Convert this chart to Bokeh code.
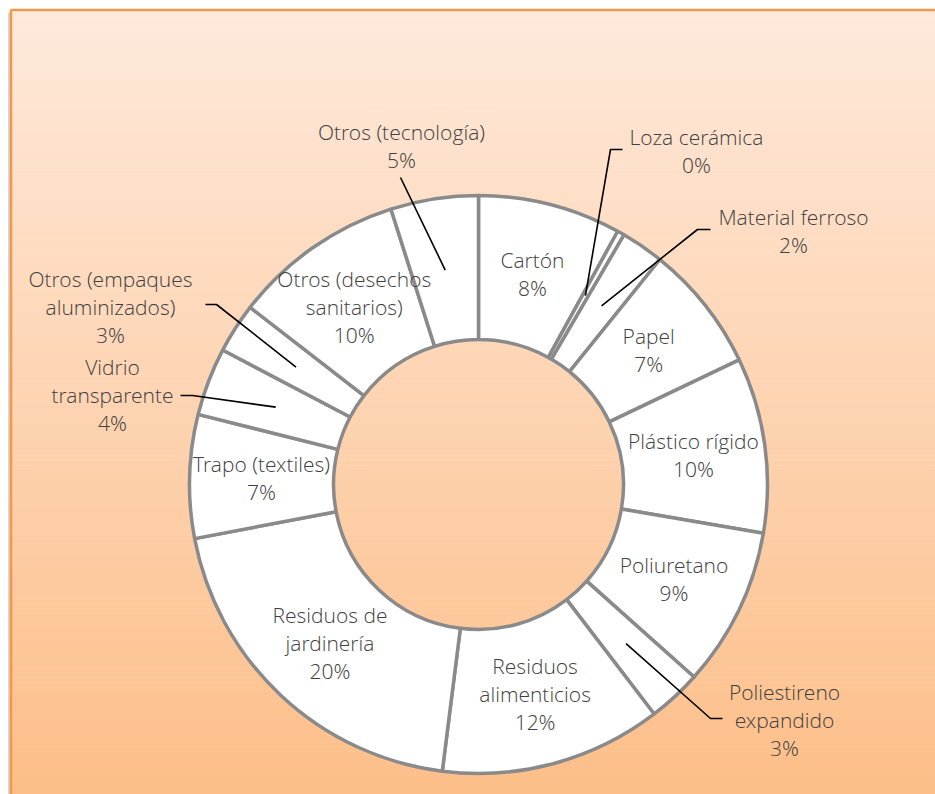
import math
from bokeh.plotting import figure
from bokeh.models import Range1d
from bokeh.core.properties import value
from bokeh.embed import file_html
from bokeh.resources import INLINE

# ---------------- data ----------------
categories = ["Cartón", "Loza cerámica", "Material ferroso", "Papel", "Plástico rígido",
              "Poliuretano", "Poliestireno expandido", "Residuos alimenticios",
              "Residuos de jardinería", "Trapo (textiles)", "Vidrio transparente",
              "Otros (empaques aluminizados)", "Otros (desechos sanitarios)", "Otros (tecnología)"]
shares = [8.0, 0.4, 2.4, 7.1, 9.8, 8.9, 3.0, 12.4, 20.0, 6.9, 3.8, 2.8, 9.6, 4.9]
label_lines = [["Cartón"], ["Loza cerámica"], ["Material ferroso"], ["Papel"], ["Plástico rígido"],
               ["Poliuretano"], ["Poliestireno", "expandido"], ["Residuos", "alimenticios"],
               ["Residuos de", "jardinería"], ["Trapo (textiles)"], ["Vidrio", "transparente"],
               ["Otros (empaques", "aluminizados)"], ["Otros (desechos", "sanitarios)"],
               ["Otros (tecnología)"]]

# ---------------- layout (page pixel coords) ----------------
W, H = 935, 794
def fx(X): return X
def fy(Y): return H - Y

CX, CY = 478, 484
R_OUT, R_IN = 289, 145
R_MID = (R_OUT + R_IN) / 2
LINE_GAP = 28

# outside labels: index -> (block centre x, first line y, leader elbow points)
outside = {
    1: (696, 136, [(622, 149), (610, 149)]),
    2: (793, 216, [(710, 229), (697, 229)]),
    6: (784, 691, [(722, 718), (710, 718)]),
    10: (112, 366, [(180, 395), (192, 395)]),
    11: (110, 278, [(205, 304), (216, 304)]),
    13: (401, 131, [(400, 177)]),
}

p = figure(width=W, height=H, output_backend="svg", toolbar_location=None,
           x_range=Range1d(0, W), y_range=Range1d(0, H),
           x_axis_location=None, y_axis_location=None, min_border=0)
p.outline_line_color = None
p.grid.visible = False
p.background_fill_color = "white"
p.border_fill_color = "white"

# background gradient box
top_c = (254, 233, 219)
bot_c = (253, 190, 136)
y0, y1 = 11, 800
n = 160
tops, bots, cols = [], [], []
for i in range(n):
    a = y0 + (y1 - y0) * i / n
    b = y0 + (y1 - y0) * (i + 1) / n
    t = (i + 0.5) / n
    c = tuple(int(round(top_c[k] + (bot_c[k] - top_c[k]) * t)) for k in range(3))
    tops.append(fy(a)); bots.append(fy(b) - 0.5)
    cols.append("#%02x%02x%02x" % c)
p.quad(left=fx(11), right=W + 5, top=tops, bottom=bots, fill_color=cols, line_color=None)
# shadow + border
p.line([fx(8.5), fx(8.5)], [fy(12), fy(810)], line_color="#d6d6d6", line_width=2)
p.line([fx(10.5), fx(10.5), W + 5], [fy(810), fy(9.5), fy(9.5)], line_color="#f79646", line_width=2.5)

# ---------------- donut ----------------
total = sum(shares)
starts, ends, mids = [], [], []
acc = 0.0
for s in shares:
    a0 = acc / total * 2 * math.pi
    acc += s
    a1 = acc / total * 2 * math.pi
    starts.append(math.pi / 2 - a1)
    ends.append(math.pi / 2 - a0)
    mids.append((a0 + a1) / 2)

p.annular_wedge(x=fx(CX), y=fy(CY), inner_radius=R_IN, outer_radius=R_OUT,
                start_angle=starts, end_angle=ends, direction="anticlock",
                fill_color="white", line_color="#8a8a8a", line_width=3.5)

# ---------------- labels ----------------
tx, ty, tt = [], [], []
for i, cat in enumerate(categories):
    lines = label_lines[i] + ["%d%%" % round(shares[i])]
    m = mids[i]
    px = CX + R_MID * math.sin(m)
    py = CY - R_MID * math.cos(m)
    if i in outside:
        bx, first_y, elbow = outside[i]
        for k, ln in enumerate(lines):
            tx.append(fx(bx)); ty.append(fy(first_y + k * LINE_GAP)); tt.append(ln)
        pts = elbow + [(px, py)]
        p.line([fx(q[0]) for q in pts], [fy(q[1]) for q in pts], line_color="black", line_width=1.6)
    else:
        nl = len(lines)
        for k, ln in enumerate(lines):
            tx.append(fx(px)); ty.append(fy(py + (k - (nl - 1) / 2) * LINE_GAP)); tt.append(ln)

p.text(x=tx, y=ty, text=tt, text_align="center", text_baseline="middle",
       text_font=value("'Open Sans Light', 'Open Sans'"), text_font_size="21px",
       text_color="#404040")

open("out.html", "w").write(file_html(p, INLINE))
